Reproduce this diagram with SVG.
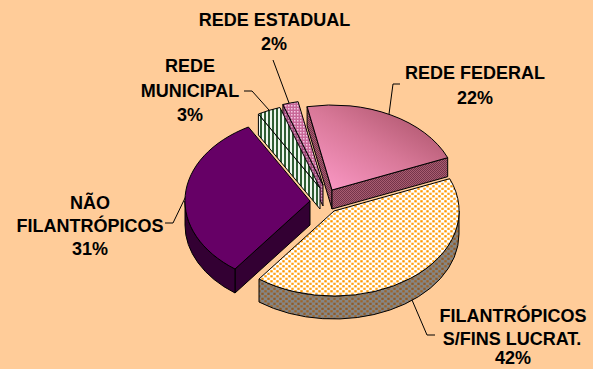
<svg xmlns="http://www.w3.org/2000/svg" width="593" height="369" viewBox="0 0 593 369">
<style>
.lbl{font-family:"Liberation Sans",Arial,sans-serif;font-weight:bold;font-size:18px;fill:#000;text-anchor:middle}
.edge{stroke:#000;stroke-width:1;stroke-linejoin:round}
.lead{stroke:#000;stroke-width:1;fill:none}
</style>
<defs>
<linearGradient id="fedTop" x1="0" y1="1" x2="1" y2="0">
<stop offset="0" stop-color="#FF9CCB"/>
<stop offset="0.5" stop-color="#D87898"/>
<stop offset="1" stop-color="#A04A5E"/>
</linearGradient>
<pattern id="fedSide" width="2" height="2" patternUnits="userSpaceOnUse">
<rect width="2" height="2" fill="#A85C70"/>
<rect width="1" height="1" fill="#74344A"/>
<rect x="1" y="1" width="1" height="1" fill="#74344A"/>
</pattern>
<pattern id="dots" width="6" height="5" patternUnits="userSpaceOnUse">
<rect width="6" height="5" fill="#FFFFFF"/>
<rect x="0.3" y="0.2" width="2.4" height="2.2" fill="#FF9900"/>
<rect x="3.3" y="2.7" width="2.4" height="2.2" fill="#FFA21A"/>
</pattern>
<pattern id="dotsRim" width="6" height="5" patternUnits="userSpaceOnUse">
<rect width="6" height="5" fill="#858585"/>
<rect x="0.3" y="0.2" width="2.4" height="2.2" fill="#9C6428"/>
<rect x="3.3" y="2.7" width="2.4" height="2.2" fill="#8E5A26"/>
</pattern>
<pattern id="stripes" width="4" height="4" patternUnits="userSpaceOnUse">
<rect width="4" height="4" fill="#EEF6EE"/>
<rect width="2" height="4" fill="#2F5E33"/>
</pattern>
<pattern id="estTop" width="3" height="3" patternUnits="userSpaceOnUse">
<rect width="3" height="3" fill="#C86898"/>
<rect width="1.5" height="1.5" fill="#F4C8E2"/>
</pattern>
<pattern id="estSide" width="3" height="3" patternUnits="userSpaceOnUse">
<rect width="3" height="3" fill="#9E4A78"/>
<rect width="1.5" height="1.5" fill="#D89AC0"/>
</pattern>
</defs>
<rect width="593" height="369" fill="#FFCC99"/>

<g id="connectors">
<polyline class="lead" points="273,60 289,103"/>
<polyline class="lead" points="244,91 252,91 269,110"/>
<polyline class="lead" points="400,84 393,84 389,114"/>
<polyline class="lead" points="165,223 173,223 186,196"/>
<polyline class="lead" points="412,300 427,335 435,335"/>
</g>

<g id="rede-estadual">
<path class="edge" fill="url(#estSide)" d="M323,185 L282.9,104.5 L282.9,125.5 L323,206 Z"/>
<path class="edge" fill="url(#estTop)" d="M323,185 L282.9,104.5 A125,85 0 0 1 298.1,101.7 Z"/>
</g>

<g id="rede-federal">
<path class="edge" fill="url(#fedSide)" d="M332,190 L307.1,106.7 L307.1,125.7 L332,209 Z"/>
<path class="edge" fill="url(#fedSide)" d="M332,190 L447.7,157.7 L447.7,176.7 L332,209 Z"/>
<path class="edge" fill="url(#fedTop)" d="M332,190 L307.1,106.7 A125,85 0 0 1 447.7,157.7 Z"/>
</g>

<g id="rede-municipal">
<path class="edge" fill="url(#stripes)" d="M320,188 L258.4,114 L258.4,135 L320,209 Z"/>
<path class="edge" fill="url(#stripes)" d="M320,188 L258.4,114 A125,85 0 0 1 279.9,107.5 Z"/>
</g>

<g id="nao-filantropicos">
<path class="edge" fill="#330033" d="M310,201 L235,269 L235,293 L310,225 Z"/>
<path class="edge" fill="#330033" d="M235,269 A125,85 0 0 1 185,201 L185,225 A125,85 0 0 0 235,293 Z"/>
<path class="edge" fill="#660066" d="M310,201 L235,269 A125,85 0 0 1 248.4,127 Z"/>
</g>

<g id="filantropicos">
<path class="edge" fill="url(#dotsRim)" d="M459,211 A125,85 0 0 1 259,279 L259,302 A125,85 0 0 0 459,234 Z"/>
<path class="edge" fill="url(#dots)" d="M334,211 L449.7,178.7 A125,85 0 0 1 259,279 Z"/>
</g>

<g id="labels">
<text class="lbl" x="274.5" y="26">REDE ESTADUAL</text>
<text class="lbl" x="274" y="50">2%</text>
<text class="lbl" x="475" y="79">REDE FEDERAL</text>
<text class="lbl" x="475" y="104">22%</text>
<text class="lbl" x="190" y="72">REDE</text>
<text class="lbl" x="190" y="97">MUNICIPAL</text>
<text class="lbl" x="190" y="121">3%</text>
<text class="lbl" x="90" y="209">NÃO</text>
<text class="lbl" x="90" y="232">FILANTRÓPICOS</text>
<text class="lbl" x="90" y="255">31%</text>
<text class="lbl" x="513" y="322">FILANTRÓPICOS</text>
<text class="lbl" x="512" y="345">S/FINS LUCRAT.</text>
<text class="lbl" x="513" y="364">42%</text>
</g>
</svg>
